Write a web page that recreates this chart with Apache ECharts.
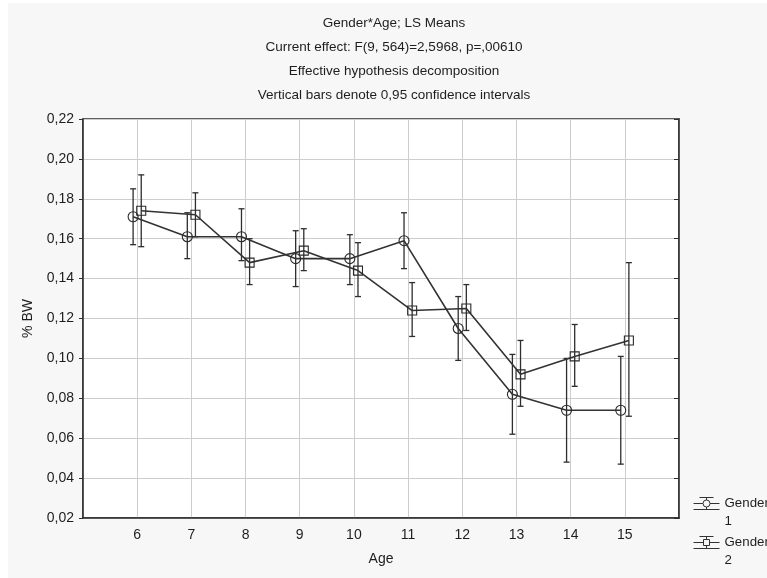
<!DOCTYPE html>
<html>
<head>
<meta charset="utf-8">
<script src="https://cdn.jsdelivr.net/npm/echarts@6/dist/echarts.min.js"></script>
<style>
html,body{margin:0;padding:0;background:#fff;}
#chart{width:767px;height:578px;}
</style>
</head>
<body>
<div id="chart"></div>
<script>
// ---- data ----
const ages = [6, 7, 8, 9, 10, 11, 12, 13, 14, 15];
const xTickLabels = [6, 7, 8, 9, 10, 11, 12, 13, 14, 15];
const yTickValues = [0.02, 0.04, 0.06, 0.08, 0.10, 0.12, 0.14, 0.16, 0.18, 0.20, 0.22];

const g1Mean = [0.171, 0.161, 0.161, 0.150, 0.150, 0.159, 0.115, 0.082, 0.074, 0.074];
const g1Low  = [0.157, 0.150, 0.149, 0.136, 0.137, 0.145, 0.099, 0.062, 0.048, 0.047];
const g1High = [0.185, 0.173, 0.175, 0.164, 0.162, 0.173, 0.131, 0.102, 0.100, 0.101];

const g2Mean = [0.174, 0.172, 0.148, 0.154, 0.144, 0.124, 0.125, 0.092, 0.101, 0.109];
const g2Low  = [0.156, 0.161, 0.137, 0.144, 0.131, 0.111, 0.114, 0.076, 0.086, 0.071];
const g2High = [0.192, 0.183, 0.160, 0.165, 0.158, 0.138, 0.137, 0.109, 0.117, 0.148];

const titleLines = [
  'Gender*Age; LS Means',
  'Current effect: F(9, 564)=2,5968, p=,00610',
  'Effective hypothesis decomposition',
  'Vertical bars denote 0,95 confidence intervals'
];

// ---- chart ----
const OFF = 0.075;
const INK = '#2e2e2e';
const TXT = '#1e1e1e';
const FONT = "'Liberation Sans', Arial, sans-serif";

function fmtY(v) { return v.toFixed(2).replace('.', ','); }

function errBar(color) {
  return function (params, api) {
    const x = api.value(0), lo = api.value(1), hi = api.value(2);
    const a = api.coord([x, lo]);
    const b = api.coord([x, hi]);
    const w = 3;
    const st = { stroke: color, lineWidth: 1.3 };
    return {
      type: 'group',
      children: [
        { type: 'line', shape: { x1: a[0], y1: a[1], x2: b[0], y2: b[1] }, style: st },
        { type: 'line', shape: { x1: a[0] - w, y1: a[1], x2: a[0] + w, y2: a[1] }, style: st },
        { type: 'line', shape: { x1: b[0] - w, y1: b[1], x2: b[0] + w, y2: b[1] }, style: st }
      ]
    };
  };
}

const iconCircle = 'path://M6 3L20 3M0 9L9.5 9M16.5 9L26 9M0 15L26 15M13 3L13 5.5M13 12.5L13 15M16.5 9A3.5 3.5 0 1 1 9.5 9A3.5 3.5 0 1 1 16.5 9M0 0M26 36';
const iconSquare = 'path://M6 3L20 3M0 9L10 9M16 9L26 9M0 15L26 15M13 3L13 6M13 12L13 15M10 6L16 6L16 12L10 12Z M0 0M26 36';

const chart = echarts.init(document.getElementById('chart'));
chart.setOption({
  animation: false,
  backgroundColor: '#fff',
  textStyle: { fontFamily: FONT },
  graphic: [{
    type: 'rect', z: -100, silent: true,
    shape: { x: 8, y: 3, width: 760, height: 576 },
    style: { fill: '#f7f7f7' }
  }],
  title: {
    text: titleLines.join('\n'),
    left: 394, top: 11, padding: 0,
    textAlign: 'center',
    textStyle: { fontSize: 13.5, fontWeight: 'normal', color: TXT, lineHeight: 24.2, fontFamily: FONT }
  },
  legend: {
    orient: 'vertical',
    left: 693, top: 494,
    itemWidth: 26, itemHeight: 36, itemGap: 2,
    padding: 0,
    formatter: n => n.replace(' ', '\n'),
    itemStyle: { color: 'rgba(0,0,0,0)', borderColor: '#333', borderWidth: 1 },
    textStyle: { fontSize: 13.3, color: TXT, lineHeight: 18, fontFamily: FONT },
    data: [
      { name: 'Gender 1', icon: iconCircle },
      { name: 'Gender 2', icon: iconSquare }
    ]
  },
  grid: {
    left: 83, right: 88, top: 119, bottom: 60,
    show: true, backgroundColor: '#fff', borderColor: INK, borderWidth: 1.5
  },
  xAxis: {
    type: 'value', min: 5, max: 16, interval: 1,
    name: 'Age', nameLocation: 'middle', nameGap: 34,
    nameTextStyle: { fontSize: 14, color: TXT, fontFamily: FONT },
    axisLine: { show: true, lineStyle: { color: INK, width: 1.5 } },
    axisTick: { show: false },
    axisLabel: {
      fontSize: 14, color: TXT, margin: 10, fontFamily: FONT,
      showMinLabel: true, showMaxLabel: true,
      formatter: v => (xTickLabels.indexOf(v) >= 0 ? String(v) : '')
    },
    splitLine: { show: true, lineStyle: { color: '#cdcdcd', width: 1 } }
  },
  yAxis: [{
    type: 'value', min: yTickValues[0], max: yTickValues[yTickValues.length - 1], interval: 0.02,
    position: 'left',
    name: '% BW', nameLocation: 'middle', nameGap: 48, nameRotate: 90,
    nameTextStyle: { fontSize: 14, color: TXT, fontFamily: FONT },
    axisLine: { show: true, lineStyle: { color: INK, width: 1.5 } },
    axisTick: { show: true, length: 4, lineStyle: { color: INK } },
    axisLabel: { fontSize: 14, color: TXT, margin: 9, formatter: fmtY, fontFamily: FONT },
    splitLine: { show: true, lineStyle: { color: '#cdcdcd', width: 1 } }
  }, {
    type: 'value', min: yTickValues[0], max: yTickValues[yTickValues.length - 1], interval: 0.02,
    position: 'right',
    axisLine: { show: true, lineStyle: { color: INK, width: 1.5 } },
    axisTick: { show: true, inside: true, length: 5, lineStyle: { color: INK } },
    axisLabel: { show: false },
    splitLine: { show: false }
  }],
  series: [
    {
      name: 'Gender 1', type: 'custom', renderItem: errBar(INK),
      encode: { x: 0, y: [1, 2] }, z: 2,
      data: ages.map((a, i) => [a - OFF, g1Low[i], g1High[i]])
    },
    {
      name: 'Gender 2', type: 'custom', renderItem: errBar(INK),
      encode: { x: 0, y: [1, 2] }, z: 2,
      data: ages.map((a, i) => [a + OFF, g2Low[i], g2High[i]])
    },
    {
      name: 'Gender 1', type: 'line', z: 3,
      symbol: 'circle', symbolSize: 10,
      lineStyle: { color: '#333', width: 1.6 },
      itemStyle: { color: 'rgba(255,255,255,0)', borderColor: '#2a2a2a', borderWidth: 1.1 },
      data: ages.map((a, i) => [a - OFF, g1Mean[i]])
    },
    {
      name: 'Gender 2', type: 'line', z: 3,
      symbol: 'rect', symbolSize: 9,
      lineStyle: { color: '#333', width: 1.6 },
      itemStyle: { color: 'rgba(255,255,255,0)', borderColor: '#2a2a2a', borderWidth: 1.1 },
      data: ages.map((a, i) => [a + OFF, g2Mean[i]])
    }
  ]
});
</script>
</body>
</html>
